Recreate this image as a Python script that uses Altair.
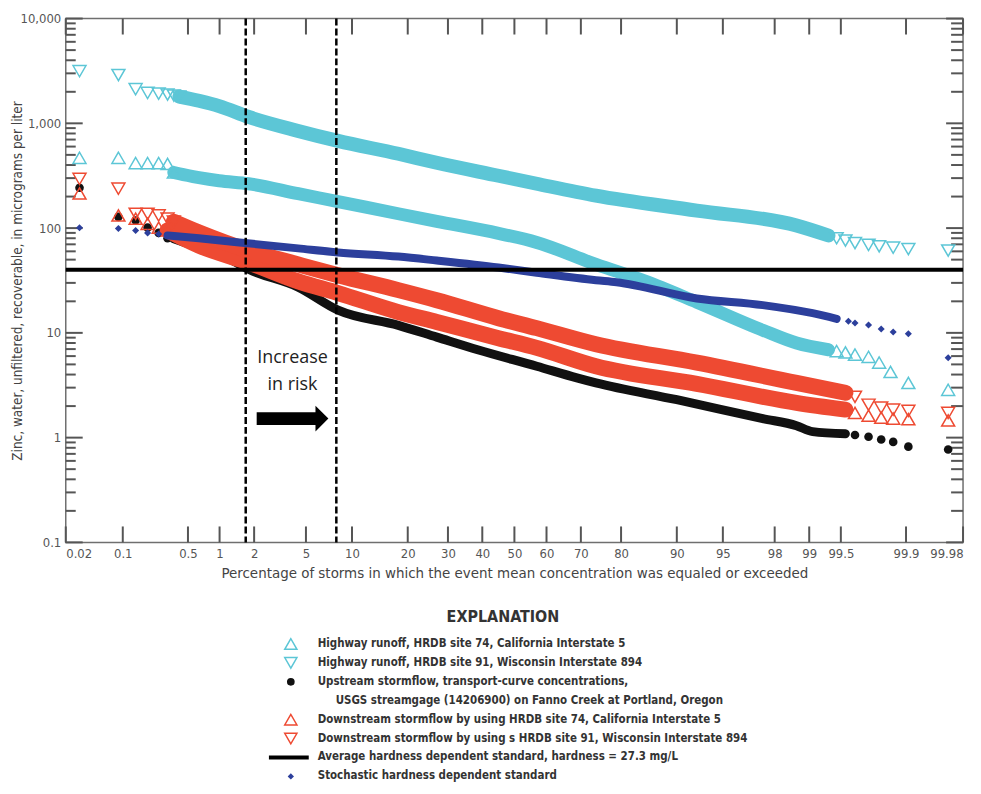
import altair as alt
import pandas as pd
from statistics import NormalDist

# ---------------- data ----------------
X_TICKS = [0.02, 0.1, 0.5, 1, 2, 5, 10, 20, 30, 40, 50, 60, 70, 80, 90, 95, 98, 99, 99.5, 99.9, 99.98]
X_TICK_LABELS = ["0.02", "0.1", "0.5", "1", "2", "5", "10", "20", "30", "40", "50",
                 "60", "70", "80", "90", "95", "98", "99", "99.5", "99.9", "99.98"]
Y_MAJOR = [0.1, 1, 10, 100, 1000, 10000]
Y_MINOR = [0.2, 0.3, 0.4, 0.5, 0.6, 0.7, 0.8, 0.9,
           2, 3, 4, 5, 6, 7, 8, 9,
           20, 30, 40, 50, 60, 70, 80, 90,
           200, 300, 400, 500, 600, 700, 800, 900,
           2000, 3000, 4000, 5000, 6000, 7000, 8000, 9000]

# Highway runoff, HRDB site 91 (cyan, down triangles)
HW91_TAIL_P = [0.030, 0.089, 0.14, 0.19, 0.25, 0.31, 0.36, 0.41,
               99.45, 99.55, 99.64, 99.74, 99.80, 99.86, 99.906, 99.969]
HW91_TAIL_V = [3150, 2890, 2120, 1950, 1920, 1880, 1840, 1800,
               80, 76, 72, 69, 67, 65, 63, 61]
HW91_BAND_P = [0.41, 0.64, 0.99, 1.8, 4.4, 8.2, 18, 27, 45, 57, 74, 92.5, 98.7, 99.34]
HW91_BAND_V = [1800, 1640, 1460, 1150, 847, 680, 512, 420, 316, 265, 204, 147, 106, 85]

# Highway runoff, HRDB site 74 (cyan, up triangles)
HW74_TAIL_P = [0.030, 0.089, 0.14, 0.19, 0.25, 0.31, 0.36,
               99.45, 99.55, 99.64, 99.74, 99.80, 99.85, 99.906, 99.969]
HW74_TAIL_V = [469, 469, 418, 418, 418, 410, 340,
               6.7, 6.5, 6.2, 5.9, 5.2, 4.24, 3.33, 2.86]
HW74_BAND_P = [0.36, 0.41, 0.64, 0.99, 1.8, 4.4, 8.2, 18, 27, 45, 57, 74, 85, 92.5, 97.5, 98.7, 99.34]
HW74_BAND_V = [340, 330, 303, 283, 265, 213, 179, 137, 116, 89, 73, 45, 31, 19.6, 10.6, 8.0, 6.9]

# Upstream stormflow (black dots)
UP_TAIL_P = [0.030, 0.089, 0.14, 0.19, 0.25, 0.31,
             99.64, 99.74, 99.81, 99.86, 99.906, 99.969]
UP_TAIL_V = [243, 128, 118, 101, 90, 80,
             1.06, 1.02, 0.96, 0.91, 0.82, 0.77]
UP_BAND_P = [0.36, 0.64, 1.3, 1.8, 4.4, 8.2, 18, 27, 38.6, 57, 68.9, 74, 90, 97.5, 98.7, 99.07, 99.55]
UP_BAND_V = [79, 65, 49, 40.5, 27.3, 16.5, 11.8, 9.1, 6.9, 4.8, 3.72, 3.33, 2.3, 1.52, 1.30, 1.14, 1.09]

# Downstream stormflow using HRDB site 74 (red, up triangles)
DN74_TAIL_P = [0.030, 0.089, 0.14, 0.19, 0.25, 0.31,
               99.64, 99.74, 99.81, 99.86, 99.906, 99.969]
DN74_TAIL_V = [214, 132, 123, 110, 101, 95,
               1.72, 1.62, 1.55, 1.52, 1.50, 1.46]
DN74_BAND_P = [0.31, 0.64, 1.8, 4.4, 8.2, 18, 27, 45, 57, 74, 92.5, 98.7, 99.55]
DN74_BAND_V = [95, 68, 47, 31, 24, 15.8, 12.7, 8.9, 7.2, 4.8, 3.26, 2.15, 1.85]

# Downstream stormflow using HRDB site 91 (red, down triangles)
DN91_TAIL_P = [0.030, 0.089, 0.14, 0.19, 0.25, 0.31, 0.36,
               99.64, 99.74, 99.81, 99.86, 99.906, 99.969]
DN91_TAIL_V = [295, 238, 137, 137, 132, 123, 115,
               2.45, 2.06, 1.93, 1.85, 1.80, 1.72]
DN91_BAND_P = [0.36, 0.64, 1.8, 4.4, 8.2, 18, 27, 45, 57, 74, 92.5, 98.7, 99.55]
DN91_BAND_V = [115, 91, 61, 45, 35.5, 25.6, 20.5, 13.8, 11.1, 7.8, 5.2, 3.33, 2.68]

# Stochastic hardness dependent standard (blue diamonds)
ST_TAIL_P = [0.030, 0.089, 0.14, 0.19, 0.25,
             99.58, 99.64, 99.74, 99.81, 99.86, 99.906, 99.969]
ST_TAIL_V = [101, 99, 95, 90, 88,
             12.9, 12.4, 11.9, 10.9, 10.2, 9.8, 5.8]
ST_BAND_P = [0.31, 0.64, 1.5, 4.4, 8.2, 18, 27, 45, 57, 74, 79, 92.5, 97.5, 99.07, 99.45]
ST_BAND_V = [85, 80, 73, 64, 58.6, 53.5, 49, 42, 37.5, 31.8, 30.4, 21.3, 18.4, 15.4, 13.6]

STANDARD = [40]            # average hardness dependent standard
RISK_P = [1.7, 8.0]        # dashed vertical lines
ARROW_P = [4.0]
ARROW_V = [1.52]
RISK_TEXT = ["Increase", "in risk"]
RISK_TEXT_V = [5.77, 3.19]

X_TITLE = "Percentage of storms in which the event mean concentration was equaled or exceeded"
Y_TITLE = "Zinc, water, unfiltered, recoverable, in micrograms per liter"
LEGEND_TITLE = "EXPLANATION"
LEGEND_LABELS = [
    "Highway runoff, HRDB site 74, California Interstate 5",
    "Highway runoff, HRDB site 91, Wisconsin Interstate 894",
    "Upstream stormflow, transport-curve concentrations,",
    "USGS streamgage (14206900) on Fanno Creek at Portland, Oregon",
    "Downstream stormflow by using HRDB site 74, California Interstate 5",
    "Downstream stormflow by using s HRDB site 91, Wisconsin Interstate 894",
    "Average hardness dependent standard, hardness = 27.3 mg/L",
    "Stochastic hardness dependent standard",
]

# ---------------- styling ----------------
CYAN = "#5cc6d6"
RED = "#ee4a32"
BLUE = "#2c3f9c"
BLACK = "#111111"
NARROW = "Liberation Sans Narrow, Arial Narrow, DejaVu Sans Condensed, sans-serif"
AXIS_GRAY = "#6f6f6f"
TICK_GRAY = "#555555"
PLOT_W, PLOT_H = 901, 526

nd = NormalDist()


def zed(p):
    return nd.inv_cdf(p / 100.0)


def frame(ps, vs):
    return pd.DataFrame({"p": ps, "v": vs, "z": [zed(p) for p in ps]})


ZT = [zed(p) for p in X_TICKS]
ZMIN, ZMAX = zed(0.02), zed(99.98)
XS = alt.Scale(domain=[ZMIN, ZMAX], nice=False, zero=False)
YS = alt.Scale(type="log", domain=[0.1, 10000], nice=False)


def xenc(axis=None, field="z"):
    return alt.X(f"{field}:Q", scale=XS, axis=axis)


def yenc(axis=None, field="v"):
    return alt.Y(f"{field}:Q", scale=YS, axis=axis)


def band(ps, vs, color, width):
    return alt.Chart(frame(ps, vs)).mark_line(
        color=color, strokeWidth=width, strokeCap="round", strokeJoin="round",
        interpolate="monotone"
    ).encode(x=xenc(), y=yenc(), order="z:Q")


def tail(ps, vs, shape, color, size, filled):
    props = dict(shape=shape, size=size, filled=filled, opacity=1)
    if filled:
        props.update(fill=color, strokeWidth=0)
    else:
        props.update(stroke=color, strokeWidth=1.5)
    return alt.Chart(frame(ps, vs)).mark_point(**props).encode(x=xenc(), y=yenc())


# x label expression (maps each tick's z value back to its label)
parts = []
for i in range(len(ZT) - 1):
    mid = (ZT[i] + ZT[i + 1]) / 2
    parts.append(f"datum.value < {mid:.5f} ? '{X_TICK_LABELS[i]}' : ")
X_LABEL_EXPR = "".join(parts) + f"'{X_TICK_LABELS[-1]}'"

ax_df = pd.DataFrame({"z": [0.0], "v": [1.0]})

x_axis = alt.Chart(ax_df).mark_point(opacity=0).encode(
    x=xenc(alt.Axis(orient="bottom", values=ZT, labelExpr=X_LABEL_EXPR,
                    ticks=False, tickSize=0, domain=False, grid=False,
                    labelFont=NARROW, labelFontSize=13, labelColor="#555",
                    labelPadding=5, title=X_TITLE, titleFont=NARROW,
                    titleFontSize=15, titleFontWeight="normal",
                    titleColor="#444", titlePadding=5)),
    y=yenc())

y_axis = alt.Chart(ax_df).mark_point(opacity=0).encode(
    x=xenc(),
    y=yenc(alt.Axis(orient="left", values=Y_MAJOR, format=",", ticks=False,
                    tickSize=0, domain=False, grid=False, labelFont=NARROW,
                    labelFontSize=13, labelColor="#555", labelPadding=5,
                    title=Y_TITLE, titleFont=NARROW, titleFontSize=13.5,
                    titleFontWeight="normal", titleColor="#444",
                    titleX=-48, titleBaseline="middle")))

# ---- inward-pointing ticks on all four sides (through the scales) ----
SPAN = ZMAX - ZMIN
ytick_rows = []
for v in Y_MAJOR:
    ytick_rows.append({"v": v, "a": ZMIN, "b": ZMIN + SPAN * 17 / PLOT_W})
    ytick_rows.append({"v": v, "a": ZMAX - SPAN * 17 / PLOT_W, "b": ZMAX})
for v in Y_MINOR:
    ytick_rows.append({"v": v, "a": ZMIN, "b": ZMIN + SPAN * 10 / PLOT_W})
    ytick_rows.append({"v": v, "a": ZMAX - SPAN * 12 / PLOT_W, "b": ZMAX})
ytick_df = pd.DataFrame(ytick_rows)

LOG_SPAN = 5.0  # decades in the y domain
xtick_rows = []
for zt in ZT:
    xtick_rows.append({"z": zt, "lo": 0.1, "hi": 0.1 * 10 ** (LOG_SPAN * 16 / PLOT_H)})
    xtick_rows.append({"z": zt, "lo": 10000 / 10 ** (LOG_SPAN * 16 / PLOT_H), "hi": 10000})
xtick_df = pd.DataFrame(xtick_rows)

tick_layers = [
    alt.Chart(ytick_df).mark_rule(color=TICK_GRAY, strokeWidth=2, opacity=1).encode(
        y=yenc(), x=xenc(field="a"), x2="b:Q"),
    alt.Chart(xtick_df).mark_rule(color=TICK_GRAY, strokeWidth=2, opacity=1).encode(
        x=xenc(), y=yenc(field="lo"), y2="hi:Q"),
]

series = [
    band(HW74_BAND_P, HW74_BAND_V, CYAN, 13),
    tail(HW74_TAIL_P, HW74_TAIL_V, "triangle-up", CYAN, 170, False),
    band(HW91_BAND_P, HW91_BAND_V, CYAN, 14),
    tail(HW91_TAIL_P, HW91_TAIL_V, "triangle-down", CYAN, 170, False),
    band(UP_BAND_P, UP_BAND_V, BLACK, 9),
    tail(UP_TAIL_P, UP_TAIL_V, "circle", BLACK, 75, True),
    band(DN74_BAND_P, DN74_BAND_V, RED, 16),
    tail(DN74_TAIL_P, DN74_TAIL_V, "triangle-up", RED, 170, False),
    band(DN91_BAND_P, DN91_BAND_V, RED, 16),
    tail(DN91_TAIL_P, DN91_TAIL_V, "triangle-down", RED, 170, False),
    band(ST_BAND_P, ST_BAND_V, BLUE, 8),
    tail(ST_TAIL_P, ST_TAIL_V, "diamond", BLUE, 50, True),
]

std_line = alt.Chart(pd.DataFrame({"v": STANDARD})).mark_rule(
    color="black", strokeWidth=4).encode(y=yenc())

risk_lines = alt.Chart(pd.DataFrame({"z": [zed(p) for p in RISK_P]})).mark_rule(
    color="black", strokeWidth=2.5, strokeDash=[7, 3]).encode(x=xenc())

arrow = alt.Chart(frame(ARROW_P, ARROW_V)).mark_point(
    shape="M-1,-0.18L0.64,-0.18L0.64,-0.36L1,0L0.64,0.36L0.64,0.18L-1,0.18Z",
    size=5184, filled=True, fill="black", strokeWidth=0, opacity=1
).encode(x=xenc(), y=yenc())

risk_text = alt.Chart(pd.DataFrame({
    "t": RISK_TEXT, "v": RISK_TEXT_V, "z": [zed(ARROW_P[0])] * 2})).mark_text(
    font="Open Sans", fontSize=18, color="#222", align="center", baseline="middle"
).encode(x=xenc(), y=yenc(), text="t:N")

# ---------------- legend (explanation) ----------------
one = pd.DataFrame({"k": [0]})
SYM_X, TXT_X, IND_X = 226, 253, 271
ROWS = [628, 647, 666, 685, 704, 723, 742, 761]


def ltext(txt, x, y, size=11.5, align="left"):
    return alt.Chart(one).mark_text(
        text=txt, font=NARROW, fontSize=size, fontWeight="bold", color="#333",
        align=align, baseline="middle").encode(x=alt.value(x), y=alt.value(y))


def lsym(shape, color, size, filled, y):
    props = dict(shape=shape, size=size, filled=filled, opacity=1)
    if filled:
        props.update(fill=color, strokeWidth=0)
    else:
        props.update(stroke=color, strokeWidth=1.5)
    return alt.Chart(one).mark_point(**props).encode(x=alt.value(SYM_X), y=alt.value(y))


legend = [
    ltext(LEGEND_TITLE, 439, 601, size=16, align="center"),
    lsym("triangle-up", CYAN, 150, False, ROWS[0]),
    lsym("triangle-down", CYAN, 150, False, ROWS[1]),
    lsym("circle", BLACK, 60, True, ROWS[2]),
    lsym("triangle-up", RED, 150, False, ROWS[4]),
    lsym("triangle-down", RED, 150, False, ROWS[5]),
    alt.Chart(one).mark_rule(color="black", strokeWidth=4).encode(
        x=alt.value(204), x2=alt.value(244), y=alt.value(ROWS[6])),
    lsym("diamond", BLUE, 40, True, ROWS[7]),
]
for i, lab in enumerate(LEGEND_LABELS):
    legend.append(ltext(lab, IND_X if i == 3 else TXT_X, ROWS[i]))

chart = alt.layer(
    x_axis, y_axis, *tick_layers, *series, std_line, risk_lines, arrow, risk_text, *legend
).resolve_axis(x="independent", y="independent").properties(
    width=PLOT_W, height=PLOT_H,
    autosize=alt.AutoSizeParams(type="none"),
    padding={"left": 58, "top": 9, "right": 10, "bottom": 243},
    background="white",
).configure_view(stroke=AXIS_GRAY, strokeWidth=1.5)

chart.save("out.html", embed_options={"renderer": "svg", "actions": False})
